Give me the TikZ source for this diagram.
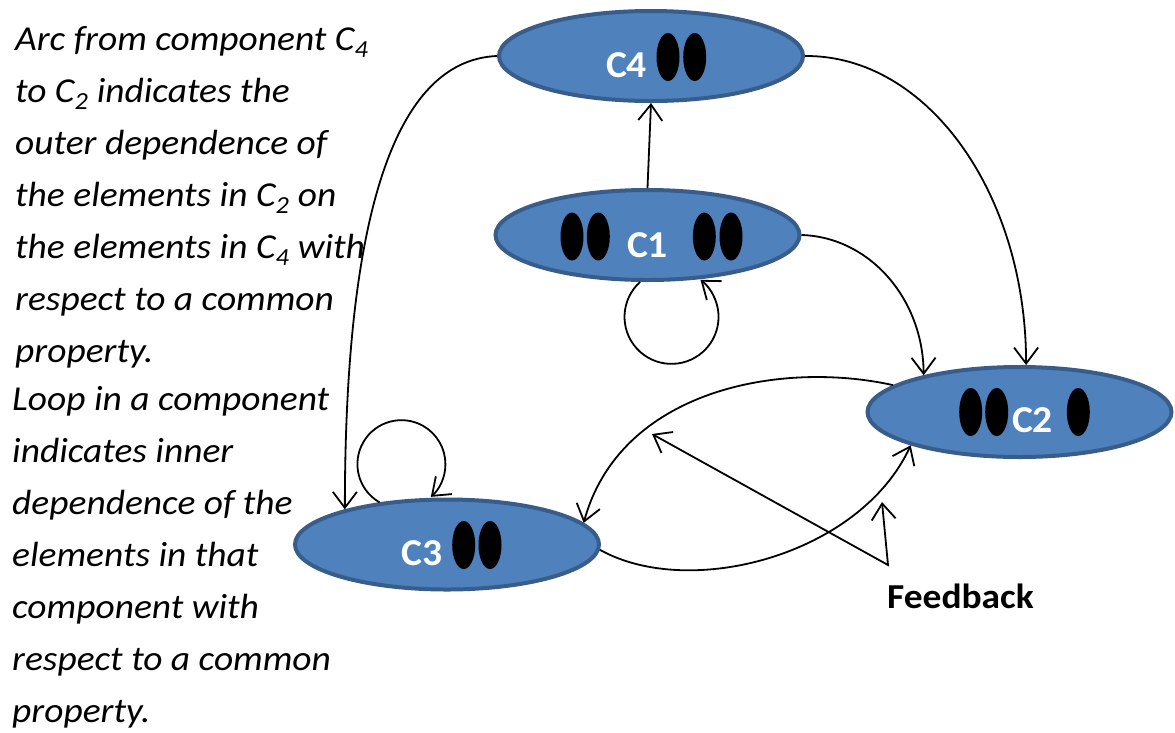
\documentclass[tikz,border=0pt]{standalone}
\usepackage{fontspec}
\setmainfont{Carlito}
\newfontfamily\notefont[FakeStretch=1.07]{Carlito}
\newfontfamily\labelfont[FakeStretch=1.04]{Carlito}
\usetikzlibrary{shapes.geometric,arrows.meta}
\definecolor{compfill}{HTML}{4F81BD}
\definecolor{compline}{HTML}{385D8A}
\begin{document}
\begin{tikzpicture}[x=1pt,y=1pt,
  comp/.style={ellipse, draw=compline, fill=compfill, line width=4pt,
    minimum width=304pt, minimum height=90pt, inner sep=0pt},
  complabel/.style={text=white, font=\labelfont\fontsize{38}{40}\selectfont\bfseries,
    inner sep=0pt, anchor=base},
  elem/.style={fill=black},
  arr/.style={line width=1.8pt, -{Straight Barb[length=16pt,width=24pt]}},
  note/.style={font=\notefont\fontsize{35}{40}\selectfont\itshape, anchor=base west,
    inner sep=0pt},
]
\useasboundingbox (0,0) rectangle (1175,-732);

% components
\node[comp] (c4) at (651,-56) {};
\node[comp] (c1) at (647.5,-235) {};
\node[comp] (c2) at (1019.5,-412) {};
\node[comp] (c3) at (447,-544.5) {};

% elements inside the components
\fill[elem] (668,-57) ellipse[x radius=11.5, y radius=24];
\fill[elem] (694.7,-57) ellipse[x radius=11.5, y radius=24];
\fill[elem] (572,-236.5) ellipse[x radius=11.5, y radius=24];
\fill[elem] (598.3,-236.5) ellipse[x radius=11.5, y radius=24];
\fill[elem] (704.3,-236.5) ellipse[x radius=11.5, y radius=24];
\fill[elem] (731,-236.5) ellipse[x radius=11.5, y radius=24];
\fill[elem] (970.7,-412) ellipse[x radius=11.5, y radius=24];
\fill[elem] (996.7,-412) ellipse[x radius=11.5, y radius=24];
\fill[elem] (1078.3,-412) ellipse[x radius=11.5, y radius=24];
\fill[elem] (463.7,-545) ellipse[x radius=11.5, y radius=24];
\fill[elem] (490,-545) ellipse[x radius=11.5, y radius=24];

% component labels
\node[complabel] (l4) at (626.5,-77) {C4};
\node[complabel] (l1) at (647.5,-257) {C1};
\node[complabel] (l2) at (1032.5,-432) {C2};
\node[complabel] (l3) at (422,-565) {C3};

% dependencies between components
\draw[arr] (c1.north) -- (c4.south);
\draw[arr] (c4.west) .. controls (400,-60) and (345,-200) .. (c3.161);
\draw[arr] (c4.east) .. controls (927,-55) and (1026,-193) .. (c2.82);
\draw[arr] (c1.east) .. controls (869,-237) and (923,-298) .. (c2.159);
\draw[arr] (c2.168) .. controls (780,-360) and (620,-390) .. (c3.9);
\draw[arr] (c3.358) .. controls (690,-600) and (860,-555) .. (c2.197);

% inner dependence loops
\draw[arr] (c1.261) arc[start angle=132, delta angle=280, radius=47];
\draw[arr] (c3.148) arc[start angle=240, delta angle=-288, radius=44];

% feedback pointer
\coordinate (fb) at (888,-565);
\coordinate (fbA) at (652,-434);
\coordinate (fbB) at (882,-502);
\draw[line width=1.8pt, {Straight Barb[length=16pt,width=24pt]}-{Straight Barb[length=16pt,width=24pt]}]
  (fbA) -- (fb) -- (fbB);
\node[font=\notefont\fontsize{35}{40}\selectfont\bfseries, anchor=base, inner sep=0pt]
  (fbl) at (960.5,-608) {Feedback};

% explanatory notes
\node[note] (n1) at (15,-50) {Arc from component C\textsubscript{4}};
\node[note] (n2) at (15,-102) {to C\textsubscript{2} indicates the};
\node[note] (n3) at (15,-154) {outer dependence of};
\node[note] (n4) at (15,-206) {the elements in C\textsubscript{2} on};
\node[note] (n5) at (15,-258) {the elements in C\textsubscript{4} with};
\node[note] (n6) at (15,-310) {respect to a common};
\node[note] (n7) at (15,-362) {property.};

\node[note] (m1) at (12,-410) {Loop in a component};
\node[note] (m2) at (12,-462) {indicates inner};
\node[note] (m3) at (12,-514) {dependence of the};
\node[note] (m4) at (12,-566) {elements in that};
\node[note] (m5) at (12,-618) {component with};
\node[note] (m6) at (12,-670) {respect to a common};
\node[note] (m7) at (12,-722) {property.};
\end{tikzpicture}
\end{document}
